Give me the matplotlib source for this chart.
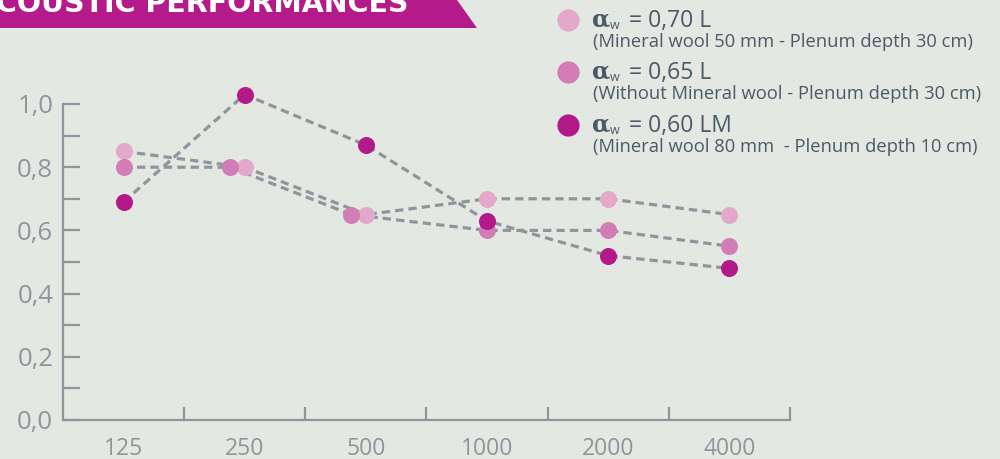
import matplotlib
matplotlib.use("Agg")
import matplotlib.pyplot as plt
from matplotlib.patches import Polygon
from matplotlib.lines import Line2D

# ---- data ----
freqs = ["125", "250", "500", "1000", "2000", "4000"]
y_ticks = [0.0, 0.2, 0.4, 0.6, 0.8, 1.0]
y_tick_labels = ["0,0", "0,2", "0,4", "0,6", "0,8", "1,0"]
series_light = [0.85, 0.80, 0.65, 0.70, 0.70, 0.65]
series_medium = [0.80, 0.80, 0.65, 0.60, 0.60, 0.55]
series_dark = [0.69, 1.03, 0.87, 0.63, 0.52, 0.48]
legend_main = ["= 0,70 L", "= 0,65 L", "= 0,60 LM"]
legend_sub = ["(Mineral wool 50 mm - Plenum depth 30 cm)",
              "(Without Mineral wool - Plenum depth 30 cm)",
              "(Mineral wool 80 mm  - Plenum depth 10 cm)"]
title = "ACOUSTIC PERFORMANCES"

# ---- style ----
BG = "#e3e8e3"
C_LIGHT = "#e4a8cb"
C_MED = "#d27db6"
C_DARK = "#b4198a"
GREY = "#90959c"
TXT = "#4b5a66"
MAGENTA = "#b41a8a"
FONT = "Open Sans"

W, H = 1000, 459
fig = plt.figure(figsize=(W / 100, H / 100), dpi=100, facecolor=BG)

def fx(px):
    return px / W

def fy(py):
    return 1 - py / H

# banner
banner = Polygon([(fx(0), fy(0)), (fx(457), fy(0)), (fx(477), fy(28)), (fx(0), fy(28))],
                 closed=True, transform=fig.transFigure, facecolor=MAGENTA,
                 edgecolor="none", zorder=1)
fig.patches.append(banner)
fig.text(fx(408), fy(12), title, ha="right", va="baseline", color="white",
         fontsize=20.5, fontweight="bold", family="DejaVu Sans", zorder=2)

# axes
ax = fig.add_axes([fx(63), 39 / H, 727 / W, 316 / H])
ax.set_facecolor(BG)
x = list(range(len(freqs)))
ax.set_xlim(-0.5, len(freqs) - 0.5)
ax.set_ylim(0, 1.0)

# dodge medium points that coincide with light ones
dodge = -0.12
x_med = [xi + (dodge if m == l else 0) for xi, m, l in zip(x, series_medium, series_light)]

line_kw = dict(color=GREY, lw=2.3, linestyle=(0, (2.6, 1.6)), zorder=2, clip_on=False)
for xs, ys in [(x, series_light), (x_med, series_medium), (x, series_dark)]:
    ax.plot(xs, ys, **line_kw)
mk = dict(s=150, linewidths=0, zorder=3, clip_on=False)
ax.scatter(x, series_light, color=C_LIGHT, **mk)
ax.scatter(x_med, series_medium, color=C_MED, **mk)
ax.scatter(x, series_dark, color=C_DARK, **mk)

for s in ["top", "right"]:
    ax.spines[s].set_visible(False)
for s in ["left", "bottom"]:
    ax.spines[s].set_color(GREY)
    ax.spines[s].set_linewidth(1.6)

ax.set_yticks(y_ticks)
ax.set_yticklabels(y_tick_labels)
ax.set_yticks([0.1, 0.3, 0.5, 0.7, 0.9], minor=True)
ax.tick_params(axis="y", which="both", direction="in", length=12.5, width=1.6,
               color=GREY, labelcolor=GREY, labelsize=18.5, pad=7)
for lab in ax.get_yticklabels():
    lab.set_family(FONT)

ax.set_xticks([i + 0.5 for i in x])
ax.set_xticklabels([])
ax.set_xticks(x, minor=True)
ax.set_xticklabels(freqs, minor=True)
ax.tick_params(axis="x", which="major", direction="in", length=9.5, width=1.6, color=GREY)
ax.tick_params(axis="x", which="minor", length=0, labelcolor=GREY, labelsize=16.5, pad=12)
for lab in ax.get_xticklabels(minor=True):
    lab.set_family(FONT)

# legend (manual)
leg_colors = [C_LIGHT, C_MED, C_DARK]
row_y = [20, 72, 125]
for col, yy, main, sub in zip(leg_colors, row_y, legend_main, legend_sub):
    fig.add_artist(Line2D([fx(568)], [fy(yy)], marker="o", markersize=16,
                          color=col, markeredgewidth=0, transform=fig.transFigure))
    fig.text(fx(592), fy(yy + 6), "α", ha="left", va="baseline",
             color=TXT, fontsize=17, fontweight="bold", family="DejaVu Serif")
    fig.text(fx(610), fy(yy + 9), "w", ha="left", va="baseline",
             color=TXT, fontsize=9, family=FONT)
    fig.text(fx(629), fy(yy + 7), main, ha="left", va="baseline", color=TXT,
             fontsize=16.5, family=FONT)
    fig.text(fx(593), fy(yy + 22), sub, ha="left", va="center", color=TXT,
             fontsize=13.2, family=FONT)

fig.savefig("out.png", dpi=100, facecolor=BG)
